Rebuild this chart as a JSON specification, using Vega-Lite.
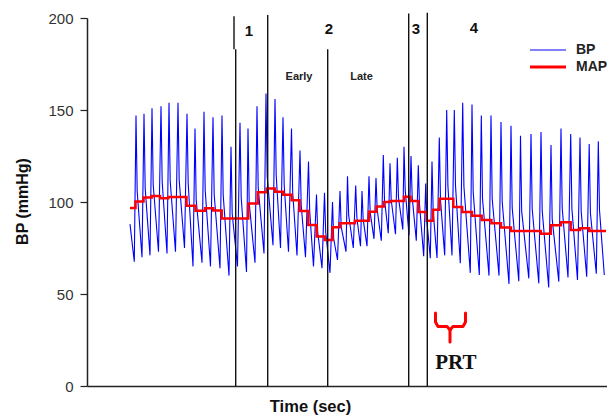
{
  "$schema": "https://vega.github.io/schema/vega-lite/v6.json",
  "width": 520,
  "height": 368,
  "autosize": {"type": "none"},
  "padding": {"left": 87, "top": 18, "right": 0, "bottom": 32},
  "background": "white",
  "config": {"view": {"stroke": null}, "font": "Liberation Sans"},
  "datasets": {
    "bp": [
      {"t":4.30,"p":88},
      {"t":4.73,"p":67.5},{"t":4.90,"p":147},{"t":5.02,"p":105.7},
      {"t":5.50,"p":70},{"t":5.70,"p":148},{"t":5.82,"p":107.4},
      {"t":6.30,"p":71},{"t":6.50,"p":151},{"t":6.62,"p":109.4},
      {"t":7.15,"p":73},{"t":7.40,"p":152},{"t":7.52,"p":110.9},
      {"t":8.00,"p":72},{"t":8.20,"p":154},{"t":8.32,"p":111.4},
      {"t":8.85,"p":73},{"t":9.10,"p":154},{"t":9.22,"p":111.9},
      {"t":9.75,"p":75},{"t":10.00,"p":148},{"t":10.12,"p":110},
      {"t":10.60,"p":65},{"t":10.80,"p":140},{"t":10.92,"p":101},
      {"t":11.50,"p":67},{"t":11.70,"p":149},{"t":11.82,"p":106.4},
      {"t":12.35,"p":65},{"t":12.60,"p":146},{"t":12.72,"p":103.9},
      {"t":13.30,"p":64},{"t":13.50,"p":147},{"t":13.62,"p":103.8},
      {"t":14.20,"p":60},{"t":14.40,"p":130},{"t":14.52,"p":93.6},
      {"t":15.05,"p":65},{"t":15.30,"p":143},{"t":15.42,"p":102.4},
      {"t":15.95,"p":62},{"t":16.10,"p":140},{"t":16.22,"p":99.4},
      {"t":16.80,"p":67},{"t":17.00,"p":152},{"t":17.12,"p":107.8},
      {"t":17.70,"p":72},{"t":17.90,"p":159},{"t":18.02,"p":113.8},
      {"t":18.60,"p":76.5},{"t":18.80,"p":156},{"t":18.92,"p":114.7},
      {"t":19.35,"p":75},{"t":19.60,"p":146},{"t":19.72,"p":109.1},
      {"t":20.15,"p":73},{"t":20.45,"p":140},{"t":20.57,"p":105.2},
      {"t":21.00,"p":71},{"t":21.30,"p":128},{"t":21.42,"p":98.4},
      {"t":21.85,"p":70},{"t":22.15,"p":122},{"t":22.27,"p":95},
      {"t":22.65,"p":65},{"t":22.95,"p":104},{"t":23.07,"p":83.7},
      {"t":23.50,"p":64},{"t":23.75,"p":105},{"t":23.87,"p":83.7},
      {"t":24.30,"p":61.5},{"t":24.55,"p":100},{"t":24.67,"p":80},
      {"t":25.05,"p":68.5},{"t":25.30,"p":106},{"t":25.42,"p":86.5},
      {"t":25.90,"p":73},{"t":26.05,"p":114},{"t":26.17,"p":92.7},
      {"t":26.63,"p":75},{"t":26.87,"p":109},{"t":26.99,"p":91.3},
      {"t":27.35,"p":76},{"t":27.50,"p":106},{"t":27.62,"p":90.4},
      {"t":28.00,"p":76},{"t":28.20,"p":114},{"t":28.32,"p":94.2},
      {"t":28.70,"p":80},{"t":28.90,"p":113},{"t":29.02,"p":95.8},
      {"t":29.43,"p":79},{"t":29.63,"p":125.5},{"t":29.75,"p":101.3},
      {"t":30.13,"p":83},{"t":30.30,"p":121},{"t":30.42,"p":101.2},
      {"t":30.85,"p":82.5},{"t":31.03,"p":124},{"t":31.15,"p":102.4},
      {"t":31.58,"p":85},{"t":31.70,"p":130},{"t":31.82,"p":106.6},
      {"t":32.20,"p":82},{"t":32.40,"p":125},{"t":32.52,"p":102.6},
      {"t":32.93,"p":79},{"t":33.13,"p":120},{"t":33.25,"p":98.7},
      {"t":33.67,"p":70.5},{"t":33.87,"p":110},{"t":33.99,"p":89.5},
      {"t":34.33,"p":69.5},{"t":34.50,"p":122},{"t":34.62,"p":94.7},
      {"t":35.00,"p":69.6},{"t":35.23,"p":135},{"t":35.35,"p":101},
      {"t":35.77,"p":71},{"t":35.97,"p":150},{"t":36.09,"p":108.9},
      {"t":36.50,"p":71},{"t":36.73,"p":150},{"t":36.85,"p":108.9},
      {"t":37.33,"p":66.7},{"t":37.57,"p":154},{"t":37.69,"p":108.6},
      {"t":38.33,"p":61.5},{"t":38.50,"p":153},{"t":38.62,"p":105.4},
      {"t":39.23,"p":60.3},{"t":39.43,"p":147},{"t":39.55,"p":101.9},
      {"t":40.20,"p":60},{"t":40.40,"p":147},{"t":40.52,"p":101.8},
      {"t":41.20,"p":60},{"t":41.40,"p":143.5},{"t":41.52,"p":100.1},
      {"t":42.20,"p":55.5},{"t":42.40,"p":141.5},{"t":42.52,"p":96.8},
      {"t":43.18,"p":57},{"t":43.35,"p":136},{"t":43.47,"p":94.9},
      {"t":44.18,"p":58.5},{"t":44.40,"p":137},{"t":44.52,"p":96.2},
      {"t":45.18,"p":55.8},{"t":45.40,"p":138},{"t":45.52,"p":95.3},
      {"t":46.17,"p":53.5},{"t":46.40,"p":131},{"t":46.52,"p":90.7},
      {"t":47.18,"p":56.7},{"t":47.40,"p":140},{"t":47.52,"p":96.7},
      {"t":48.10,"p":59},{"t":48.37,"p":137},{"t":48.49,"p":96.4},
      {"t":49.05,"p":57.6},{"t":49.30,"p":135},{"t":49.42,"p":94.8},
      {"t":49.97,"p":59.4},{"t":50.22,"p":131.5},{"t":50.34,"p":94},
      {"t":50.93,"p":61},{"t":51.13,"p":133},{"t":51.25,"p":95.6},
      {"t":51.73,"p":60.3}
    ],
    "map": [
      {"t":4.30,"p":96.7},{"t":4.85,"p":100.3},{"t":5.65,"p":102.5},{"t":6.47,"p":103.2},
      {"t":7.30,"p":102},{"t":8.13,"p":102.7},{"t":9.95,"p":98},{"t":10.85,"p":95.3},
      {"t":11.80,"p":96.6},{"t":12.63,"p":95.4},{"t":13.47,"p":91.1},{"t":16.13,"p":99.2},
      {"t":17.08,"p":105.3},{"t":17.97,"p":107.4},{"t":18.80,"p":105.6},{"t":19.63,"p":104},
      {"t":20.47,"p":101},{"t":21.26,"p":95.1},{"t":22.13,"p":87.5},{"t":22.97,"p":81.3},
      {"t":23.77,"p":79.3},{"t":24.55,"p":86.3},{"t":25.30,"p":88.4},{"t":26.80,"p":89.8},
      {"t":28.20,"p":94.7},{"t":28.95,"p":97.6},{"t":29.70,"p":100},{"t":30.30,"p":100.5},
      {"t":31.70,"p":102.9},{"t":32.35,"p":100.6},{"t":33.13,"p":94.5},{"t":33.97,"p":89.8},
      {"t":34.60,"p":95.8},{"t":35.25,"p":101.8},{"t":36.63,"p":97.3},{"t":37.52,"p":94.5},
      {"t":38.50,"p":92.5},{"t":39.47,"p":90.2},{"t":40.44,"p":88.4},{"t":41.40,"p":86.2},
      {"t":42.40,"p":84.2},{"t":45.38,"p":82.8},{"t":46.38,"p":87.3},{"t":47.40,"p":89},
      {"t":48.37,"p":84.8},{"t":49.30,"p":85.7},{"t":50.23,"p":84.2},{"t":51.90,"p":84.2}
    ],
    "phases": [
      {"t":14.70,"y0":183,"y1":201},
      {"t":14.87,"y0":0,"y1":183},
      {"t":18.07,"y0":0,"y1":201.6},
      {"t":24.07,"y0":0,"y1":183},
      {"t":32.17,"y0":0,"y1":202.5},
      {"t":34.03,"y0":0,"y1":202.9}
    ],
    "phaseNumbers": [
      {"t":16.2,"p":193,"label":"1"},
      {"t":24.2,"p":194,"label":"2"},
      {"t":32.9,"p":194,"label":"3"},
      {"t":38.7,"p":194.6,"label":"4"}
    ],
    "subPhases": [
      {"t":21.2,"p":168,"label":"Early"},
      {"t":27.45,"p":168,"label":"Late"}
    ],
    "bracket": [
      {"arm":"L","i":0,"t":34.85,"p":39.7},
      {"arm":"L","i":1,"t":34.85,"p":34.8},
      {"arm":"L","i":2,"t":35.10,"p":32.3},
      {"arm":"L","i":3,"t":36.00,"p":32.3},
      {"arm":"L","i":4,"t":36.30,"p":30.4},
      {"arm":"L","i":5,"t":36.30,"p":23.9},
      {"arm":"R","i":0,"t":37.85,"p":39.7},
      {"arm":"R","i":1,"t":37.85,"p":34.8},
      {"arm":"R","i":2,"t":37.60,"p":32.3},
      {"arm":"R","i":3,"t":36.60,"p":32.3},
      {"arm":"R","i":4,"t":36.30,"p":30.4}
    ],
    "prt": [{"t":36.88,"p":9.2,"label":"PRT"}],
    "key": [
      {"s":"BP","t0":44.3,"t1":47.9,"lx":48.9,"p":182.6},
      {"s":"MAP","t0":44.3,"t1":47.9,"lx":48.9,"p":173.4}
    ]
  },
  "layer": [
    {
      "data": {"name": "bp"},
      "mark": {"type": "line", "strokeWidth": 1.1, "interpolate": "linear"},
      "encoding": {
        "x": {
          "field": "t", "type": "quantitative",
          "scale": {"domain": [0, 52], "nice": false, "zero": false},
          "axis": {
            "title": "Time (sec)", "labels": false, "ticks": false, "grid": false,
            "domainColor": "#222", "domainWidth": 1.5,
            "titleFont": "Liberation Sans", "titleFontSize": 16.5, "titleFontWeight": "bold",
            "titleColor": "#111", "titleX": 223, "titleY": 25,
            "titleBaseline": "alphabetic", "titleAlign": "center"
          }
        },
        "y": {
          "field": "p", "type": "quantitative",
          "scale": {"domain": [0, 200], "nice": false},
          "axis": {
            "title": "BP (mmHg)", "values": [0, 50, 100, 150, 200], "grid": false,
            "tickSize": 7, "tickColor": "#222", "tickWidth": 1.2,
            "domainColor": "#222", "domainWidth": 1.5,
            "labelFont": "Liberation Sans", "labelFontSize": 15, "labelColor": "#333", "labelPadding": 7,
            "titleFont": "Liberation Sans", "titleFontSize": 16, "titleFontWeight": "bold", "titleColor": "#111",
            "titleX": -65, "titleY": 183, "titleAngle": -90,
            "titleBaseline": "middle", "titleAlign": "center"
          }
        },
        "color": {
          "datum": "BP",
          "scale": {"domain": ["BP", "MAP"], "range": ["#0000ff", "#ff0000"]},
          "legend": null
        }
      }
    },
    {
      "data": {"name": "map"},
      "mark": {"type": "line", "strokeWidth": 2.5, "interpolate": "step-after"},
      "encoding": {
        "x": {"field": "t", "type": "quantitative"},
        "y": {"field": "p", "type": "quantitative"},
        "color": {"datum": "MAP", "legend": null}
      }
    },
    {
      "data": {"name": "phases"},
      "mark": {"type": "rule", "color": "#111", "strokeWidth": 1.4},
      "encoding": {
        "x": {"field": "t", "type": "quantitative"},
        "y": {"field": "y0", "type": "quantitative"},
        "y2": {"field": "y1"}
      }
    },
    {
      "data": {"name": "phaseNumbers"},
      "mark": {"type": "text", "font": "Liberation Sans", "fontSize": 15, "fontWeight": "bold", "color": "#111", "baseline": "middle"},
      "encoding": {
        "x": {"field": "t", "type": "quantitative"},
        "y": {"field": "p", "type": "quantitative"},
        "text": {"field": "label"}
      }
    },
    {
      "data": {"name": "subPhases"},
      "mark": {"type": "text", "font": "Liberation Sans", "fontSize": 11, "fontWeight": "bold", "color": "#222", "baseline": "middle"},
      "encoding": {
        "x": {"field": "t", "type": "quantitative"},
        "y": {"field": "p", "type": "quantitative"},
        "text": {"field": "label"}
      }
    },
    {
      "data": {"name": "bracket"},
      "mark": {"type": "line", "color": "#ff0000", "strokeWidth": 3, "strokeJoin": "round", "strokeCap": "round"},
      "encoding": {
        "x": {"field": "t", "type": "quantitative"},
        "y": {"field": "p", "type": "quantitative"},
        "detail": {"field": "arm"},
        "order": {"field": "i", "type": "quantitative"}
      }
    },
    {
      "data": {"name": "prt"},
      "mark": {"type": "text", "font": "Liberation Serif", "fontSize": 21, "fontWeight": "bold", "color": "#111", "baseline": "alphabetic"},
      "encoding": {
        "x": {"field": "t", "type": "quantitative"},
        "y": {"field": "p", "type": "quantitative"},
        "text": {"field": "label"}
      }
    },
    {
      "data": {"name": "key"},
      "mark": {"type": "rule"},
      "encoding": {
        "x": {"field": "t0", "type": "quantitative"},
        "x2": {"field": "t1"},
        "y": {"field": "p", "type": "quantitative"},
        "color": {"field": "s", "type": "nominal", "legend": null},
        "strokeWidth": {"field": "s", "type": "nominal", "scale": {"domain": ["BP", "MAP"], "range": [1.2, 3]}, "legend": null}
      }
    },
    {
      "data": {"name": "key"},
      "mark": {"type": "text", "font": "Liberation Sans", "fontSize": 14, "fontWeight": "bold", "color": "#222", "align": "left", "baseline": "middle"},
      "encoding": {
        "x": {"field": "lx", "type": "quantitative"},
        "y": {"field": "p", "type": "quantitative"},
        "text": {"field": "s"}
      }
    }
  ]
}
